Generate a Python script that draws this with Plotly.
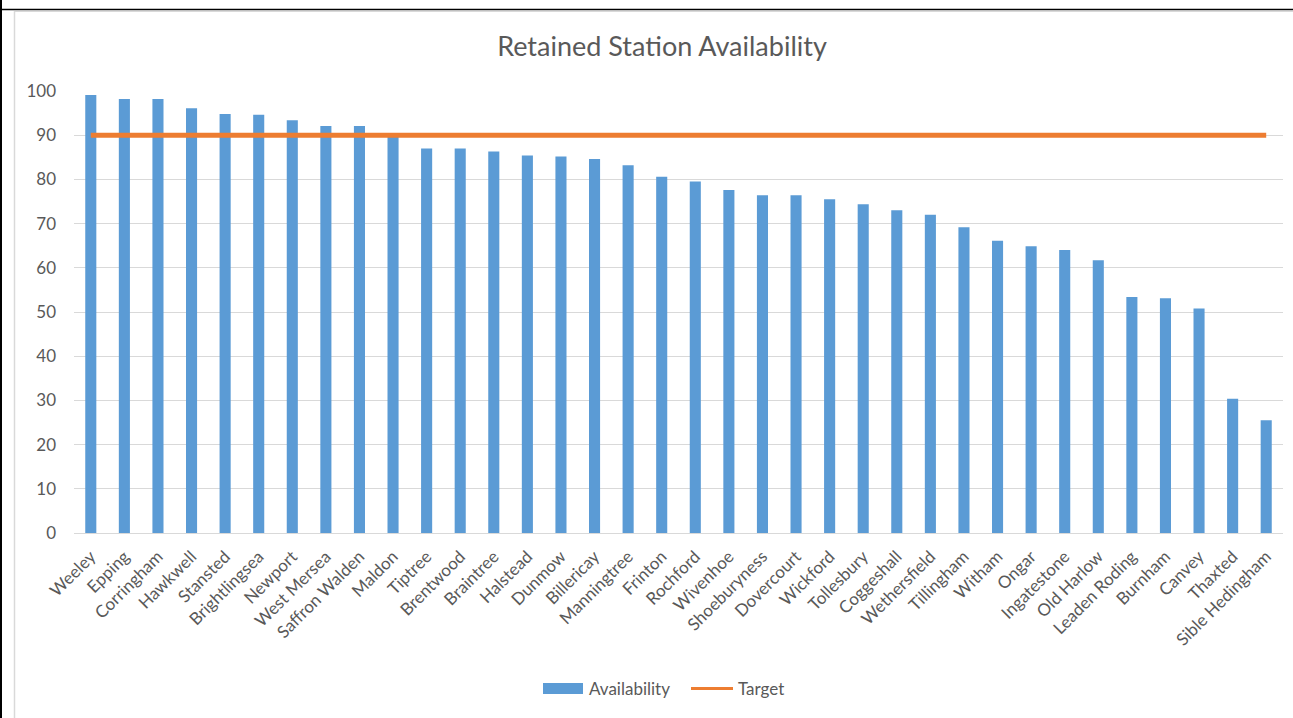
import plotly.graph_objects as go

stations = ["Weeley", "Epping", "Corringham", "Hawkwell", "Stansted", "Brightlingsea",
            "Newport", "West Mersea", "Saffron Walden", "Maldon", "Tiptree", "Brentwood",
            "Braintree", "Halstead", "Dunmow", "Billericay", "Manningtree", "Frinton",
            "Rochford", "Wivenhoe", "Shoeburyness", "Dovercourt", "Wickford", "Tollesbury",
            "Coggeshall", "Wethersfield", "Tillingham", "Witham", "Ongar", "Ingatestone",
            "Old Harlow", "Leaden Roding", "Burnham", "Canvey", "Thaxted", "Sible Hedingham"]
availability = [99.1, 98.2, 98.2, 96.1, 94.8, 94.6, 93.4, 92.1, 92.1, 89.8, 87.0, 87.0,
                86.3, 85.4, 85.2, 84.6, 83.2, 80.6, 79.5, 77.6, 76.4, 76.4, 75.5, 74.4,
                73.0, 72.0, 69.2, 66.1, 64.9, 64.0, 61.7, 53.4, 53.1, 50.8, 30.4, 25.5]
target = [90] * len(stations)
y_ticks = [0, 10, 20, 30, 40, 50, 60, 70, 80, 90, 100]

W, H = 1293, 718
ML, MR, MT, MB = 74, 10, 91, 185
PW, PH = W - ML - MR, H - MT - MB

def px(x):
    return (x - ML) / PW

def py(y):
    return (H - MB - y) / PH

FONT = "Lato, Carlito, Open Sans, sans-serif"
GREY = "#595959"
BLUE = "#5B9BD5"
ORANGE = "#ED7D31"

fig = go.Figure()
fig.add_trace(go.Bar(x=stations, y=availability, name="Availability", showlegend=False,
                     marker=dict(color=BLUE, line=dict(width=0))))
fig.add_trace(go.Scatter(x=stations, y=target, name="Target", mode="lines", showlegend=False,
                         line=dict(color=ORANGE, width=5)))

shapes = [
    dict(type="line", xref="paper", yref="paper", x0=px(0), x1=px(W), y0=py(9.5), y1=py(9.5),
         line=dict(color="black", width=1.5)),
    dict(type="line", xref="paper", yref="paper", x0=px(1), x1=px(1), y0=py(0), y1=py(H),
         line=dict(color="black", width=2)),
    dict(type="line", xref="paper", yref="paper", x0=px(14.5), x1=px(14.5), y0=py(11), y1=py(H),
         line=dict(color="#d9d9d9", width=1.5)),
    dict(type="line", xref="paper", yref="paper", x0=px(14), x1=px(W), y0=py(11.5), y1=py(11.5),
         line=dict(color="#d9d9d9", width=1)),
    # legend swatches
    dict(type="rect", xref="paper", yref="paper", x0=px(543), x1=px(583), y0=py(694), y1=py(683),
         fillcolor=BLUE, line=dict(width=0)),
    dict(type="line", xref="paper", yref="paper", x0=px(691), x1=px(733), y0=py(688.5), y1=py(688.5),
         line=dict(color=ORANGE, width=3)),
]

annotations = [
    dict(text="Availability", xref="paper", yref="paper", x=px(587), y=py(688.5),
         xanchor="left", yanchor="middle", showarrow=False,
         font=dict(family=FONT, size=17, color=GREY)),
    dict(text="Target", xref="paper", yref="paper", x=px(736), y=py(688.5),
         xanchor="left", yanchor="middle", showarrow=False,
         font=dict(family=FONT, size=17, color=GREY)),
]

fig.update_layout(
    width=W, height=H,
    margin=dict(l=ML, r=MR, t=MT, b=MB),
    paper_bgcolor="white", plot_bgcolor="white",
    bargap=0.67,
    title=dict(text="Retained Station Availability", x=662 / W, xanchor="center",
               y=1 - 47 / H, yanchor="middle",
               font=dict(family=FONT, size=27, color=GREY)),
    xaxis=dict(tickangle=-45, tickfont=dict(family=FONT, size=17, color=GREY),
               showgrid=False, showline=True, linecolor="#d9d9d9", linewidth=1,
               ticks="", ticklabelstandoff=6, range=[-0.5, len(stations) - 0.5]),
    yaxis=dict(range=[0, 100], tickvals=y_ticks, showgrid=True, gridcolor="#d9d9d9",
               gridwidth=1, zeroline=False, ticks="", ticklabelstandoff=17,
               tickfont=dict(family=FONT, size=17, color=GREY)),
    showlegend=False,
    shapes=shapes,
    annotations=annotations,
)

fig.write_html("out.html", config={"displayModeBar": False},
               post_script="document.body.style.margin='0';document.body.style.overflow='hidden';")
